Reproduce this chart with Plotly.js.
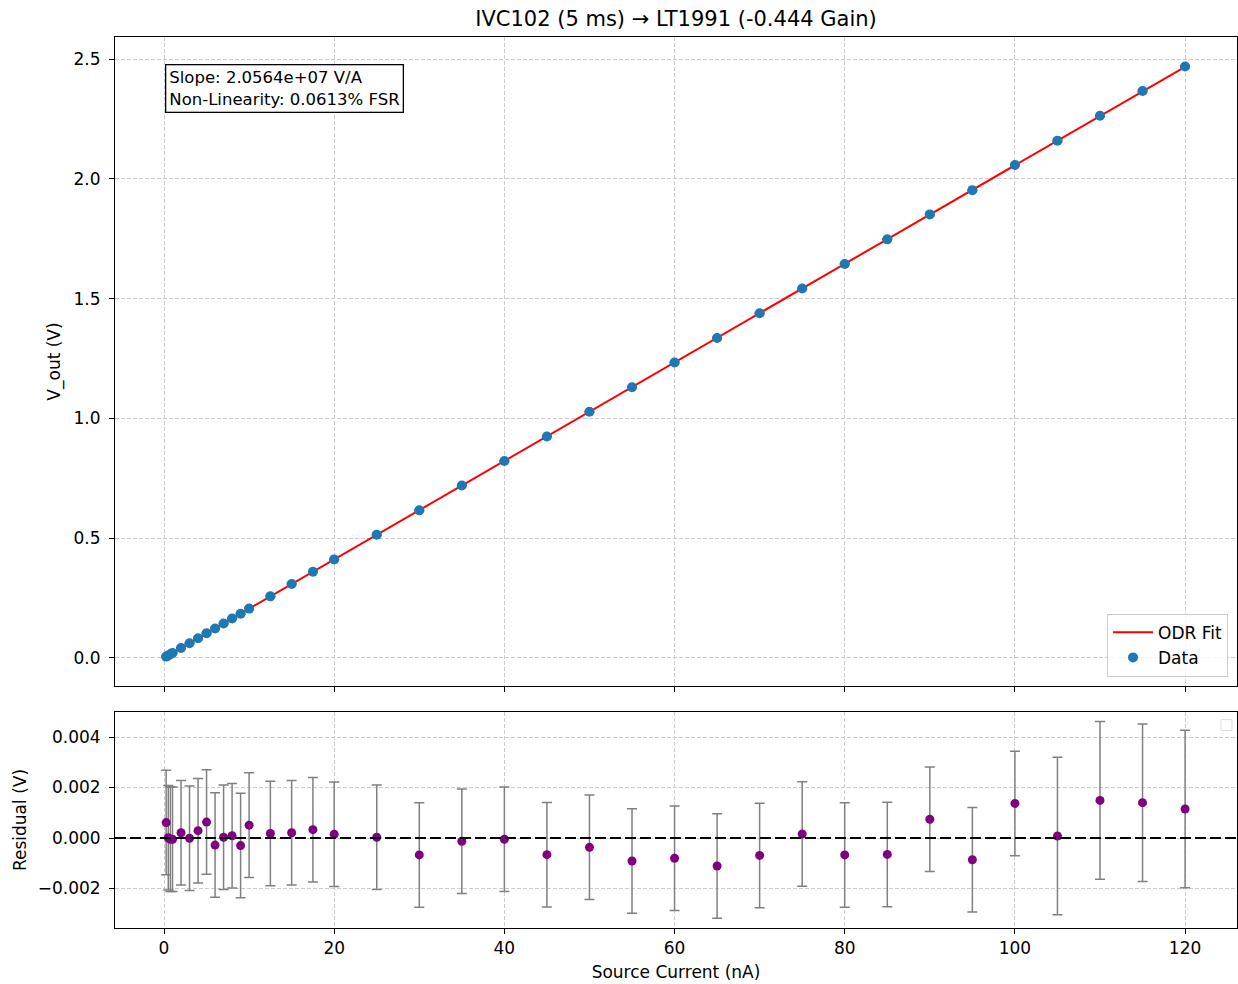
<!DOCTYPE html>
<html>
<head>
<meta charset="utf-8">
<script src="https://cdn.plot.ly/plotly-3.0.1.min.js"></script>
<style>html,body{margin:0;padding:0;background:#fff;}#chart{width:1238px;height:984px;}</style>
</head>
<body>
<div id="chart"></div>
<script>
// Source current (nA)
const current = [0.25, 0.5, 0.75, 1, 2, 3, 4, 5, 6, 7, 8, 9, 10, 12.5, 15, 17.5, 20,
  25, 30, 35, 40, 45, 50, 55, 60, 65, 70, 75, 80, 85, 90, 95, 100, 105, 110, 115, 120];
// Measured output voltage (V)
const vout = [0.00574, 0.01029, 0.01537, 0.02051, 0.04134, 0.06168, 0.08255, 0.10345, 0.12310,
  0.14398, 0.16460, 0.18478, 0.20615, 0.25723, 0.30867, 0.36020, 0.41143,
  0.51413, 0.61625, 0.71961, 0.82251, 0.92472, 1.02783, 1.13011, 1.23304, 1.33555,
  1.43879, 1.54246, 1.64445, 1.74729, 1.85150, 1.95272, 2.05777, 2.15930, 2.26353, 2.36626, 2.46883];
// Fit residuals (V)
const residual = [0.00061, 0.00001, -0.00005, -0.00005, 0.00021, -0.00001, 0.00029, 0.00063, -0.00028,
  0.00003, 0.00009, -0.00030, 0.00051, 0.00018, 0.00021, 0.00033, 0.00015,
  0.00003, -0.00067, -0.00013, -0.00005, -0.00066, -0.00037, -0.00091, -0.00080, -0.00111,
  -0.00069, 0.00016, -0.00067, -0.00065, 0.00074, -0.00086, 0.00137, 0.00008, 0.00149, 0.00140, 0.00115];
// Voltage uncertainty (V)
const vErr = [0.00207, 0.00207, 0.00207, 0.00207, 0.00207, 0.00207, 0.00207, 0.00207, 0.00207,
  0.00207, 0.00207, 0.00207, 0.00207, 0.00207, 0.00207, 0.00207, 0.00207,
  0.00207, 0.00207, 0.00207, 0.00207, 0.00207, 0.00207, 0.00207, 0.00207, 0.00207,
  0.00207, 0.00207, 0.00207, 0.00207, 0.00207, 0.00207, 0.00207, 0.00312, 0.00312, 0.00312, 0.00312];
// ODR fit line endpoints
const fitX = [0.25, 120];
const fitY = [0.00514, 2.46768];

const titleText = 'IVC102 (5 ms) \u2192 LT1991 (-0.444 Gain)';
const boxText = 'Slope: 2.0564e+07 V/A<br>Non-Linearity: 0.0613% FSR';

const F = 'DejaVu Sans, sans-serif';
const FS = 17;
const gridCol = '#cccccc';

const traces = [
  {x: fitX, y: fitY, type: 'scatter', mode: 'lines', name: 'ODR Fit',
   line: {color: 'red', width: 2}, xaxis: 'x', yaxis: 'y'},
  {x: current, y: vout, type: 'scatter', mode: 'markers', name: 'Data',
   marker: {color: '#1f77b4', size: 10},
   error_y: {type: 'data', array: vErr, visible: true, color: 'gray', thickness: 1.5, width: 5},
   xaxis: 'x', yaxis: 'y'},
  {x: current, y: residual, type: 'scatter', mode: 'markers', name: 'Residual', showlegend: false,
   marker: {color: 'purple', size: 9},
   error_y: {type: 'data', array: vErr, visible: true, color: 'gray', thickness: 1.5, width: 5},
   xaxis: 'x2', yaxis: 'y2'}
];

const axBase = {
  showline: true, mirror: true, linecolor: 'black', linewidth: 1,
  ticks: 'outside', ticklen: 5, tickcolor: 'black', tickwidth: 1,
  showgrid: true, gridcolor: gridCol, griddash: '4px,2px', gridwidth: 1,
  zeroline: false, tickfont: {family: F, size: FS, color: 'black'}
};

const layout = {
  width: 1238, height: 984,
  margin: {l: 115, r: 1, t: 37, b: 56},
  paper_bgcolor: 'white', plot_bgcolor: 'white',
  font: {family: F, size: FS, color: 'black'},
  title: {text: titleText, font: {family: F, size: 21, color: 'black'}, xref: 'paper', x: 0.5, xanchor: 'center', y: 0.981, yanchor: 'middle'},
  xaxis: Object.assign({}, axBase, {domain: [0, 1], anchor: 'y', range: [-5.76, 126.1],
    tickvals: [0, 20, 40, 60, 80, 100, 120], showticklabels: false, matches: 'x2'}),
  yaxis: Object.assign({}, axBase, {domain: [0.2716, 1], anchor: 'x', range: [-0.117, 2.592],
    tickvals: [0, 0.5, 1, 1.5, 2, 2.5], tickformat: '.1f', ticklabelstandoff: 5,
    title: {text: 'V_out (V)', font: {family: F, size: FS}, standoff: 8}}),
  xaxis2: Object.assign({}, axBase, {domain: [0, 1], anchor: 'y2', range: [-5.76, 126.1],
    tickvals: [0, 20, 40, 60, 80, 100, 120],
    title: {text: 'Source Current (nA)', font: {family: F, size: FS}, standoff: 8}}),
  yaxis2: Object.assign({}, axBase, {domain: [0, 0.2424], anchor: 'x2', range: [-0.003564, 0.00499],
    tickvals: [-0.002, 0, 0.002, 0.004], tickformat: '.3f', ticklabelstandoff: 5,
    title: {text: 'Residual (V)', font: {family: F, size: FS}, standoff: 6}}),
  legend: {x: 0.992, xanchor: 'right', y: 0.282, yanchor: 'bottom', xref: 'paper', yref: 'paper',
    bgcolor: 'rgba(255,255,255,0.8)', bordercolor: '#cccccc', borderwidth: 1,
    font: {family: F, size: FS}, itemwidth: 40, tracegroupgap: 0},
  annotations: [{
    text: boxText, xref: 'x domain', yref: 'y domain', x: 0.045, y: 0.958,
    xanchor: 'left', yanchor: 'top', showarrow: false, align: 'left',
    font: {family: F, size: 16.5, color: 'black'},
    bgcolor: 'white', bordercolor: 'black', borderwidth: 1.3, borderpad: 3
  }],
  shapes: [
    {type: 'line', xref: 'x2 domain', yref: 'y2', x0: 0, x1: 1, y0: 0, y1: 0,
     line: {color: 'black', width: 2, dash: '11px,4px'}, layer: 'above'},
    {type: 'rect', xref: 'paper', yref: 'paper', x0: 0.9857, x1: 0.9955, y0: 0.2216, y1: 0.2339,
     line: {color: '#dddddd', width: 1}, fillcolor: 'white', layer: 'above'}
  ]
};

Plotly.newPlot('chart', traces, layout, {displayModeBar: false, staticPlot: true});
</script>
</body>
</html>
